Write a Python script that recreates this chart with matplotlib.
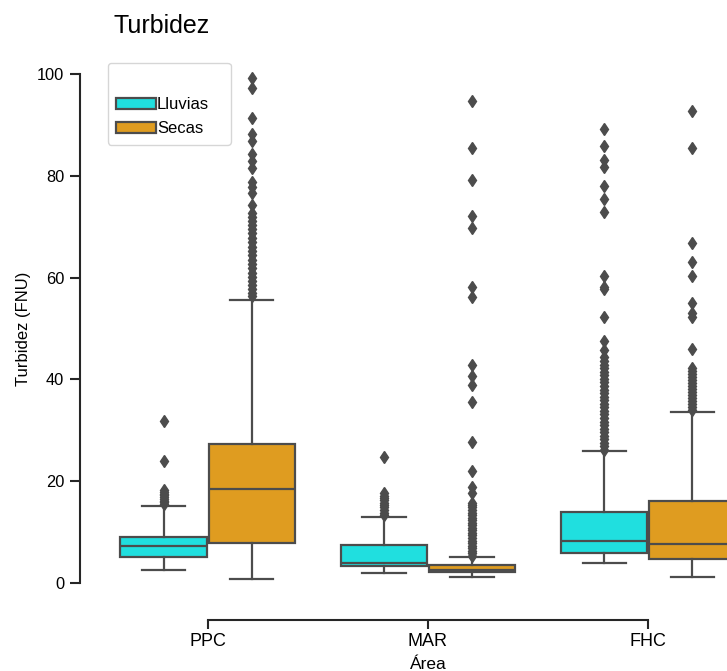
import matplotlib
matplotlib.use("Agg")
import matplotlib.pyplot as plt
from matplotlib.patches import Patch
import numpy as np

plt.rcParams["font.family"] = ["Liberation Sans", "DejaVu Sans"]

areas = ["PPC", "MAR", "FHC"]
seasons = ["Lluvias", "Secas"]
season_colors = ["#20dfdf", "#df9c20"]
line_gray = "#4c4c4c"
ink = "#262626"

# Turbidity summaries (FNU) per area, rainy season
lluvias_whislo = [2.5, 1.97, 3.8]
lluvias_q1 = [5.1, 3.3, 5.9]
lluvias_med = [7.2, 3.8, 8.15]
lluvias_q3 = [9.05, 7.4, 13.85]
lluvias_whishi = [15.1, 13.0, 25.9]
lluvias_fliers = [
    [15.4, 15.8, 16.1, 16.5, 16.8, 17.2, 17.5, 17.9, 18.3, 24.0, 31.8],
    [13.3, 13.8, 14.3, 14.8, 15.2, 15.7, 16.2, 16.7, 17.1, 17.6, 24.8],
    [26.2, 26.8, 27.5, 28.2, 28.9, 29.6, 30.3, 31.0, 31.7, 32.4, 33.1,
     33.8, 34.5, 35.2, 35.9, 36.6, 37.3, 38.0, 38.7, 39.4, 40.1, 40.8,
     41.5, 42.2, 42.9, 43.6, 44.3, 45.8, 47.5, 52.2, 57.7, 58.2, 60.3,
     73.0, 75.5, 78.0, 81.7, 83.1, 85.9, 89.2],
]

# Turbidity summaries (FNU) per area, dry season
secas_whislo = [0.7, 1.2, 1.2]
secas_q1 = [7.75, 2.1, 4.6]
secas_med = [18.4, 2.5, 7.55]
secas_q3 = [27.2, 3.5, 16.1]
secas_whishi = [55.7, 5.1, 33.6]
secas_fliers = [
    [56.3, 57.0, 57.8, 58.5, 59.3, 60.1, 61.0, 61.8, 62.7, 63.5, 64.4,
     65.2, 66.1, 67.0, 67.8, 68.7, 69.5, 70.3, 71.2, 72.0, 72.7, 74.3,
     76.6, 77.9, 78.9, 81.5, 83.0, 84.4, 86.9, 88.2, 91.3, 97.2, 99.2],
    [5.3, 5.8, 6.3, 6.8, 7.3, 7.8, 8.3, 8.8, 9.3, 9.8, 10.3, 10.8,
     11.3, 11.8, 12.3, 12.8, 13.3, 13.8, 14.3, 14.8, 15.3, 15.6, 17.6,
     18.9, 22.0, 27.6, 35.6, 38.8, 40.7, 42.8, 56.2, 58.1, 69.7, 72.1,
     79.2, 85.4, 94.8],
    [33.9, 34.5, 35.1, 35.7, 36.3, 36.9, 37.5, 38.1, 38.7, 39.3, 39.9,
     40.5, 41.1, 41.7, 42.2, 45.9, 52.2, 53.0, 55.1, 60.3, 63.1, 66.9,
     85.5, 92.8],
]

season_stats = [
    (lluvias_whislo, lluvias_q1, lluvias_med, lluvias_q3, lluvias_whishi, lluvias_fliers),
    (secas_whislo, secas_q1, secas_med, secas_q3, secas_whishi, secas_fliers),
]

fig = plt.figure(figsize=(7.27, 6.71), dpi=100)
ax = fig.add_axes([0.13418, 0.09821, 0.90908, 0.82221])

centers = np.arange(len(areas))
box_w = 0.392
offsets = [-0.2, 0.2]
lw = 1.6

for (lo, q1, med, q3, hi, fl), color, off in zip(season_stats, season_colors, offsets):
    stats = []
    for i in range(len(areas)):
        stats.append(dict(whislo=lo[i], q1=q1[i], med=med[i], q3=q3[i],
                          whishi=hi[i], fliers=fl[i]))
    ax.bxp(stats, positions=centers + off, widths=box_w, patch_artist=True,
           manage_ticks=False,
           boxprops=dict(facecolor=color, edgecolor=line_gray, linewidth=lw),
           medianprops=dict(color=line_gray, linewidth=lw),
           whiskerprops=dict(color=line_gray, linewidth=lw),
           capprops=dict(color=line_gray, linewidth=lw),
           flierprops=dict(marker="d", markersize=6.4, markerfacecolor=line_gray,
                           markeredgecolor=line_gray, linestyle="none"))

ax.set_xlim(-0.5, 2.5)
ax.set_ylim(-4.4, 104.1)

# offset, trimmed spines
for side in ("top", "right"):
    ax.spines[side].set_visible(False)
ax.spines["left"].set_position(("outward", 12.6))
ax.spines["bottom"].set_position(("outward", 10.7))
ax.spines["left"].set_bounds(0, 100)
ax.spines["bottom"].set_bounds(0, 2)
for side in ("left", "bottom"):
    ax.spines[side].set_linewidth(1.5)
    ax.spines[side].set_color(ink)

ax.set_yticks([0, 20, 40, 60, 80, 100])
ax.set_xticks(centers)
ax.set_xticklabels(areas)
ax.tick_params(axis="y", length=7.5, width=1.5, color=ink, labelcolor="black",
               labelsize=11.8, pad=4)
ax.tick_params(axis="x", length=6.5, width=1.5, color=ink, labelcolor="black",
               labelsize=13, pad=3)

ax.set_ylabel("Turbidez (FNU)", fontsize=12, labelpad=4)
ax.set_xlabel("Área", fontsize=12.5, labelpad=5)

fig.text(113 / 727, 1 - 33.3 / 671, "Turbidez", fontsize=18, ha="left",
         va="baseline")

handles = [Patch(facecolor=c, edgecolor=line_gray, linewidth=lw, label=s)
           for s, c in zip(seasons, season_colors)]
ax.legend(handles=handles, title=" ", loc="upper left",
          bbox_to_anchor=(107.7 / 727, 1 - 62.7 / 671, 123 / 727, 0),
          bbox_transform=fig.transFigure, mode="expand", borderaxespad=0,
          fontsize=12, title_fontsize=13.5, handlelength=2.4,
          handletextpad=0.05, labelspacing=0.55, borderpad=0.5,
          frameon=True)

fig.savefig("out.png", dpi=100)
